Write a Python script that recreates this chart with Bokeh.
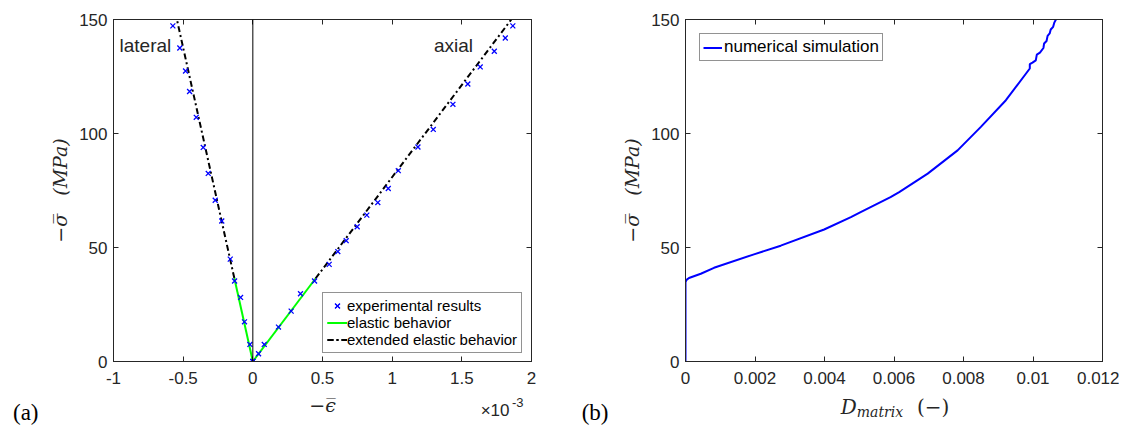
from bokeh.plotting import figure
from bokeh.layouts import row, column
from bokeh.models import (Legend, LegendItem, Label, LinearAxis, FixedTicker,
                          Range1d, Span)
from bokeh.embed import file_html
from bokeh.resources import INLINE

# ---------------- data (a) ----------------
# experimental results: strain (x1e-3) and stress (MPa)
exp_lateral_strain = [-0.574, -0.524, -0.483, -0.454, -0.406, -0.356, -0.320, -0.270,
                      -0.223, -0.162, -0.131, -0.088, -0.060, -0.021, 0.0]
exp_lateral_stress = [147.2, 137.5, 127.4, 118.4, 107.1, 93.9, 82.5, 70.7,
                      61.6, 44.9, 35.3, 28.1, 17.4, 7.5, 0.0]
exp_axial_strain = [0.0, 0.041, 0.082, 0.184, 0.275, 0.342, 0.443, 0.548, 0.610, 0.670,
                    0.749, 0.818, 0.897, 0.972, 1.044, 1.185, 1.295, 1.436, 1.543,
                    1.632, 1.733, 1.812, 1.866]
exp_axial_stress = [0.0, 3.4, 7.5, 15.1, 22.1, 29.7, 35.3, 42.6, 48.2, 53.0,
                    59.1, 64.2, 69.7, 75.9, 83.7, 94.1, 101.8, 112.8, 121.7,
                    129.2, 136.1, 141.9, 147.2]
# elastic behavior
el_lateral_strain = [0.0, -0.133]
el_lateral_stress = [0.0, 36.6]
el_axial_strain = [0.0, 0.45]
el_axial_stress = [0.0, 36.4]
# extended elastic behavior
ext_lateral_strain = [-0.133, -0.545]
ext_lateral_stress = [36.6, 150.0]
ext_axial_strain = [0.45, 1.855]
ext_axial_stress = [36.4, 150.0]

a_xticks = [-1, -0.5, 0, 0.5, 1, 1.5, 2]
a_xticklabels = ["-1", "-0.5", "0", "0.5", "1", "1.5", "2"]
yticks = [0, 50, 100, 150]
yticklabels = ["0", "50", "100", "150"]

# ---------------- data (b) ----------------
sim_damage = [0.0, 0.0, 0.00003, 0.0001, 0.00044, 0.00082, 0.00197, 0.00274, 0.00399,
              0.00476, 0.00504, 0.0059, 0.00615, 0.00697, 0.00783, 0.0085, 0.00922,
              0.009908, 0.009908, 0.009985, 0.01008, 0.01011, 0.0102, 0.0103,
              0.01032, 0.01039, 0.01042, 0.01048, 0.01051, 0.01058, 0.01061, 0.01066,
              0.0107]
sim_stress = [0.0, 34.8, 35.8, 36.6, 38.5, 41.1, 47.0, 50.8, 57.9,
              63.3, 65.5, 72.1, 74.3, 82.4, 92.6, 102.9, 114.6,
              128.5, 130.4, 131.1, 132.1, 134.6, 135.5, 137.5,
              139.5, 140.6, 142.8, 143.9, 145.6, 146.8, 148.5, 150.0,
              151.5]
b_xticks = [0, 0.002, 0.004, 0.006, 0.008, 0.01, 0.012]
b_xticklabels = ["0", "0.002", "0.004", "0.006", "0.008", "0.01", "0.012"]

AX = "#262626"
SANS = "Liberation Sans"
SERIF = "DejaVu Serif"
FRAME_H = 342
TOP = 19
NB = "\u00a0"
H = 392          # plot canvas height (both plots)
SH = 425 - H     # strip height under each plot


def style(p, xticks, xlabels):
    p.xgrid.visible = False
    p.ygrid.visible = False
    p.outline_line_color = AX
    p.outline_line_width = 1
    p.background_fill_color = "white"
    p.border_fill_color = "white"
    xa, ya = p.below[0], p.left[0]
    for ax in (xa, ya):
        ax.axis_line_color = AX
        ax.major_tick_line_color = AX
        ax.major_tick_in = 5
        ax.major_tick_out = 0
        ax.minor_tick_line_color = None
        ax.major_label_text_font = SANS
        ax.major_label_text_font_size = "17px"
        ax.major_label_text_color = AX
    xa.ticker = FixedTicker(ticks=xticks)
    xa.major_label_overrides = {t: l for t, l in zip(xticks, xlabels)}
    xa.major_label_standoff = 10
    ya.ticker = FixedTicker(ticks=yticks)
    ya.major_label_overrides = {t: l for t, l in zip(yticks, yticklabels)}
    ya.major_label_standoff = 6
    ya.axis_label = "\u2212\u03c3\u0305" + NB * 3 + "(MPa)"
    ya.axis_label_text_font = SERIF
    ya.axis_label_text_font_style = "italic"
    ya.axis_label_text_font_size = "19px"
    ya.axis_label_text_color = AX
    ya.axis_label_standoff = 5
    # mirrored axes (box on)
    top = LinearAxis(ticker=FixedTicker(ticks=xticks))
    right = LinearAxis(ticker=FixedTicker(ticks=yticks))
    for ax in (top, right):
        ax.axis_line_color = AX
        ax.major_tick_line_color = AX
        ax.major_tick_in = 5
        ax.major_tick_out = 0
        ax.minor_tick_line_color = None
        ax.major_label_text_font_size = "0px"
        ax.major_label_standoff = 0
        ax.major_label_text_color = None
    p.add_layout(top, "above")
    p.add_layout(right, "right")
    return xa, ya


def strip(width, height, x_range, tag_y, tag_text, tag_standoff):
    """Thin panel under a plot; its frame is aligned with the plot's frame.
    The panel tag (a)/(b) is drawn as the single tick label of its left axis."""
    s = figure(width=width, height=height, x_range=x_range,
               y_range=Range1d(0, height), output_backend="svg", toolbar_location=None,
               x_axis_location=None, y_axis_location="left",
               min_border_left=0, min_border_right=0, min_border_top=0, min_border_bottom=0)
    s.xgrid.visible = False
    s.ygrid.visible = False
    s.outline_line_color = None
    s.background_fill_color = "white"
    s.border_fill_color = "white"
    ya = s.left[0]
    ya.ticker = FixedTicker(ticks=[tag_y])
    ya.major_label_overrides = {tag_y: tag_text}
    ya.axis_line_color = None
    ya.major_tick_line_color = None
    ya.minor_tick_line_color = None
    ya.major_tick_in = 0
    ya.major_tick_out = 0
    ya.major_label_standoff = tag_standoff
    ya.major_label_text_font = "Liberation Serif"
    ya.major_label_text_font_size = "23px"
    ya.major_label_text_color = "black"
    return s


# ---------------- figure (a) ----------------
p1 = figure(width=560, height=H, x_range=Range1d(-1, 2), y_range=Range1d(0, 150),
            output_backend="svg", toolbar_location=None,
            min_border_left=113, min_border_right=29,
            min_border_top=TOP, min_border_bottom=H - TOP - FRAME_H)
xa1, ya1 = style(p1, a_xticks, a_xticklabels)

p1.add_layout(Span(location=0, dimension="height", line_color="black", line_width=1))

r_el1 = p1.line(el_lateral_strain, el_lateral_stress, line_color="#00FF00", line_width=2)
r_el2 = p1.line(el_axial_strain, el_axial_stress, line_color="#00FF00", line_width=2)
r_ex1 = p1.line(ext_lateral_strain, ext_lateral_stress, line_color="black",
                line_width=2, line_dash="6 3 2 3")
r_ex2 = p1.line(ext_axial_strain, ext_axial_stress, line_color="black",
                line_width=2, line_dash="6 3 2 3")
r_exp1 = p1.scatter(exp_lateral_strain, exp_lateral_stress, marker="x", size=7,
                    line_color="blue", line_width=1.3)
r_exp2 = p1.scatter(exp_axial_strain, exp_axial_stress, marker="x", size=7,
                    line_color="blue", line_width=1.3)

leg1 = Legend(items=[
    LegendItem(label="experimental results", renderers=[r_exp1, r_exp2]),
    LegendItem(label="elastic behavior", renderers=[r_el1, r_el2]),
    LegendItem(label="extended elastic behavior", renderers=[r_ex1, r_ex2]),
], location=(209, 8))
leg1.label_text_font = SANS
leg1.label_text_font_size = "15px"
leg1.label_text_color = "black"
leg1.padding = 4
leg1.spacing = 0
leg1.margin = 0
leg1.label_standoff = 0
leg1.glyph_width = 20
leg1.glyph_height = 17
leg1.label_height = 17
leg1.border_line_color = AX
leg1.border_line_width = 1
leg1.background_fill_alpha = 1
p1.add_layout(leg1, "center")

txt = dict(text_font=SANS, text_font_size="19px", text_color=AX)
p1.add_layout(Label(x=-0.957, y=138.6, text="lateral", text_baseline="alphabetic", **txt))
p1.add_layout(Label(x=1.30, y=138.6, text="axial", text_baseline="alphabetic", **txt))

s1 = strip(560, SH, p1.x_range, 12, "(a)", 75)
s1.add_layout(Label(x=0.5, y=21, text="\u2212\u03f5\u0305", text_align="center",
                    text_baseline="middle", text_font=SERIF, text_font_style="italic",
                    text_font_size="19px", text_color=AX))
s1.add_layout(Label(x=1.635, y=15, text="\u00d710", text_baseline="middle",
                    text_font=SANS, text_font_size="17px", text_color=AX))
s1.add_layout(Label(x=1.86, y=23, text="-3", text_baseline="middle",
                    text_font=SANS, text_font_size="13px", text_color=AX))

# ---------------- figure (b) ----------------
p2 = figure(width=559, height=H, x_range=Range1d(0, 0.012), y_range=Range1d(0, 150),
            output_backend="svg", toolbar_location=None,
            min_border_left=125, min_border_right=17,
            min_border_top=TOP, min_border_bottom=H - TOP - FRAME_H)
xa2, ya2 = style(p2, b_xticks, b_xticklabels)

r_sim = p2.line(sim_damage, sim_stress, line_color="#0000FF", line_width=2)
leg2 = Legend(items=[LegendItem(label="numerical simulation", renderers=[r_sim])],
              location="top_left")
leg2.label_text_font = SANS
leg2.label_text_font_size = "17px"
leg2.label_text_color = "black"
leg2.padding = 3
leg2.spacing = 0
leg2.margin = 14
leg2.label_standoff = 2
leg2.glyph_width = 19
leg2.glyph_height = 17
leg2.label_height = 17
leg2.border_line_color = AX
leg2.border_line_width = 1
p2.add_layout(leg2, "center")

s2 = strip(559, SH, p2.x_range, 12, "(b)", 77)
ser = dict(text_font=SERIF, text_color=AX, text_baseline="middle")
s2.add_layout(Label(x=0.00447, y=19, text="D", text_font_style="italic",
                    text_font_size="20px", **ser))
s2.add_layout(Label(x=0.00493, y=14, text="matrix", text_font_style="italic",
                    text_font_size="14px", **ser))
s2.add_layout(Label(x=0.00666, y=19, text="(\u2212)", text_font_size="20px", **ser))

layout = row(column(p1, s1), column(p2, s2))
open("out.html", "w").write(file_html(layout, INLINE))
